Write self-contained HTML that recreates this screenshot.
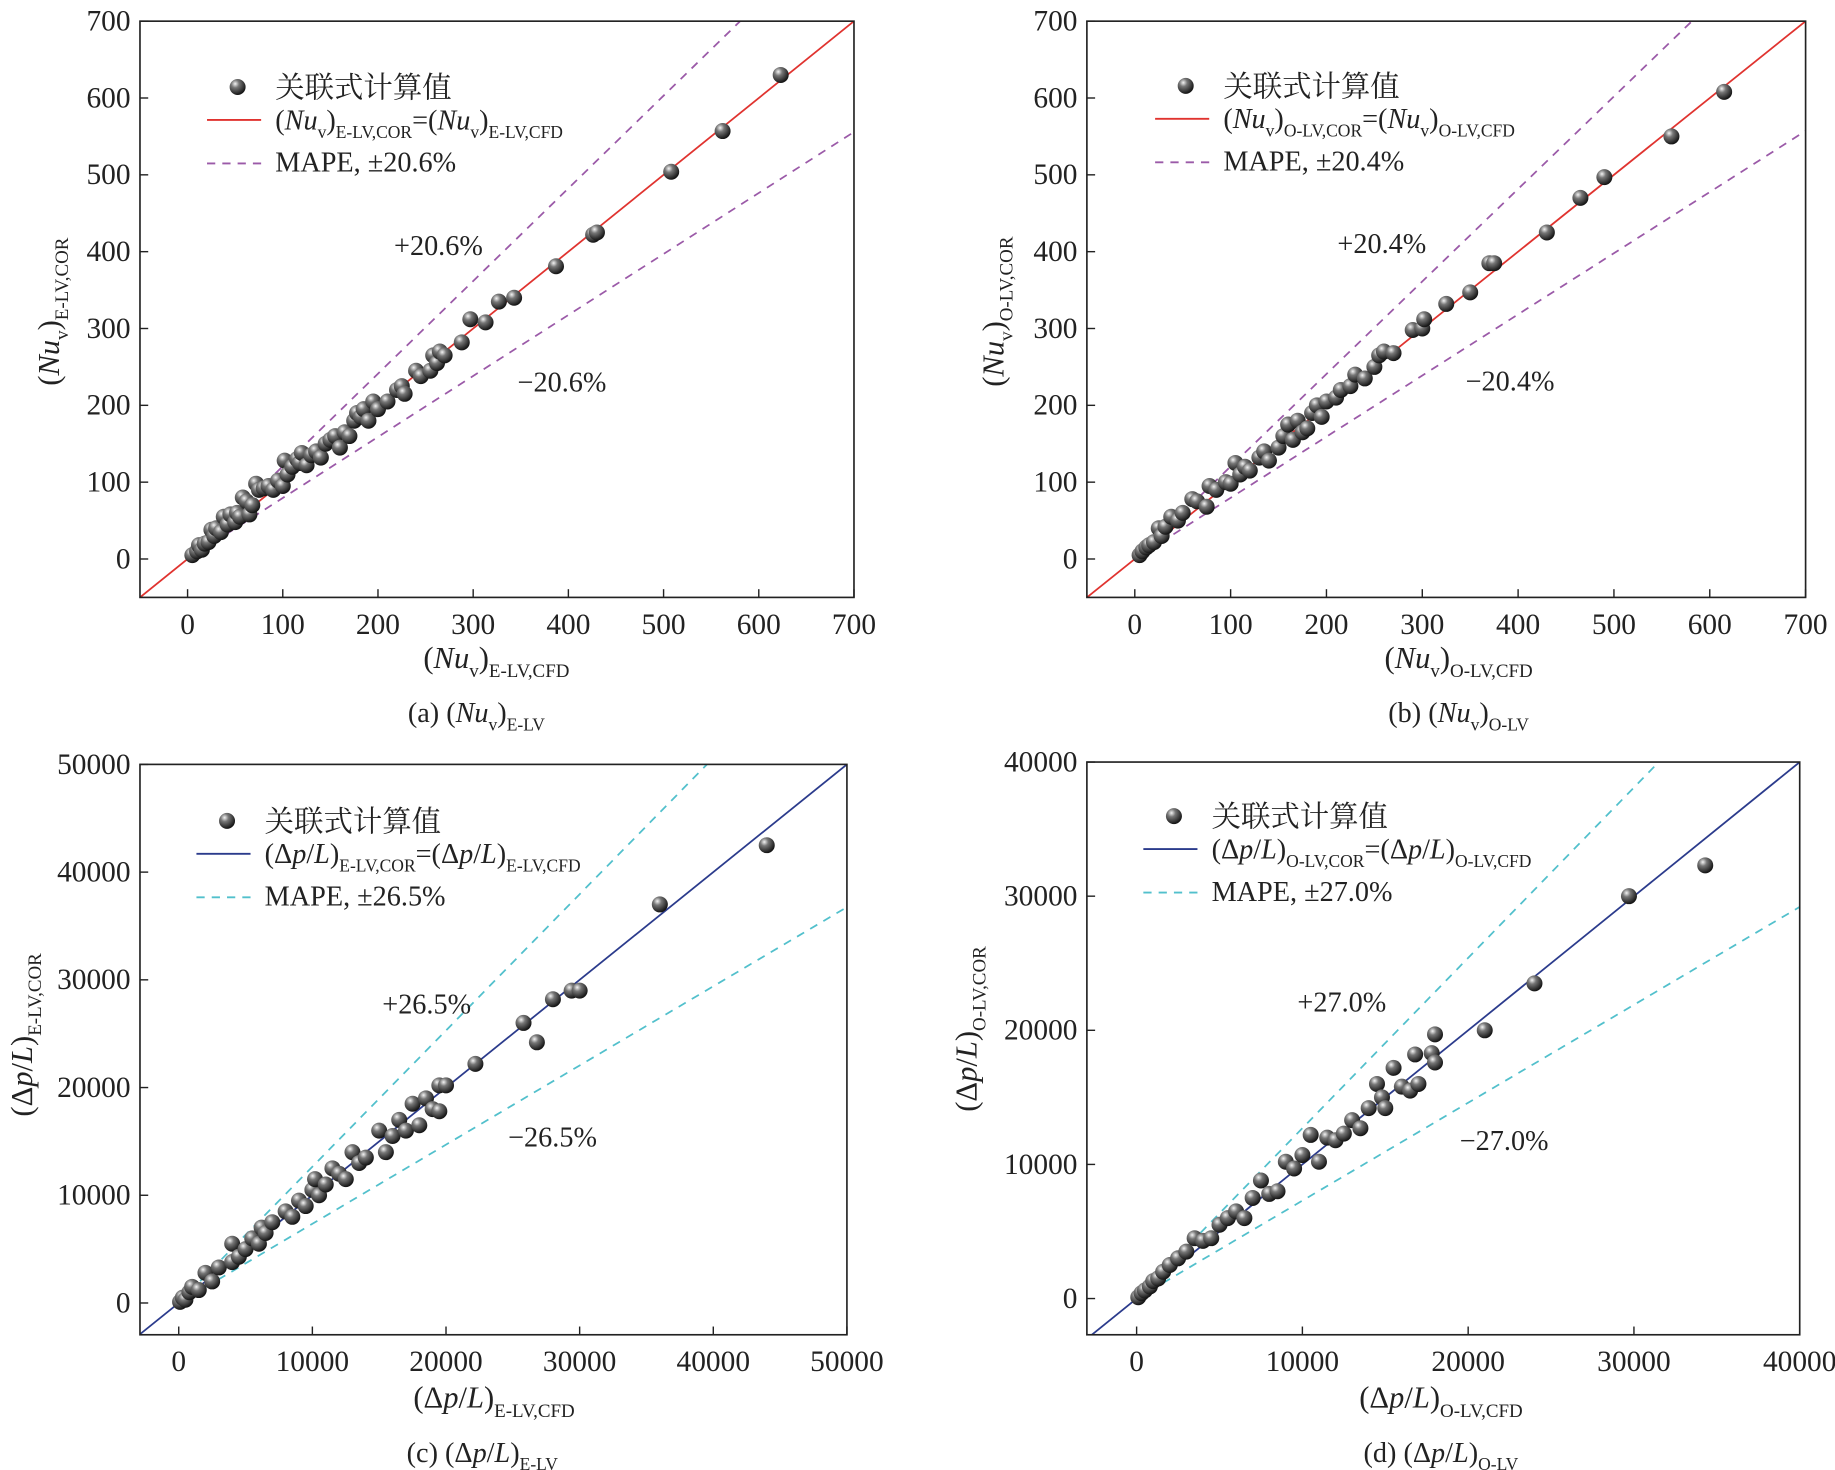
<!DOCTYPE html>
<html><head><meta charset="utf-8"><style>
html,body{margin:0;padding:0;background:#fff}
svg{display:block}
text{font-family:"Liberation Serif","Noto Serif CJK SC",serif;fill:#222}
</style></head><body>
<svg id="fig" width="1835" height="1470" viewBox="0 0 1560 1250" preserveAspectRatio="none" font-family="'Liberation Serif', 'Noto Serif CJK SC', serif" xmlns="http://www.w3.org/2000/svg">
<defs>
<radialGradient id="ball" cx="0.35" cy="0.3" r="0.7">
<stop offset="0" stop-color="#f4f4f4"/><stop offset="0.35" stop-color="#777"/><stop offset="1" stop-color="#151515"/>
</radialGradient>
</defs>
</svg>
<script>
// Panel (a) data: (Nu_v)E-LV CFD vs COR
const aX=[5,10,12,15,18,22,25,28,30,35,38,42,45,50,52,55,58,62,65,68,72,75,80,85,90,95,100,102,105,110,115,118,120,125,130,135,140,145,150,155,160,165,170,175,178,182,185,190,195,200,210,220,225,228,240,245,255,258,262,265,270,288,297,313,327,343,387,426,430,508,562,623];
const aY=[5,10,18,12,20,22,38,30,40,35,55,45,58,48,60,55,80,75,58,70,98,90,92,95,90,102,95,128,110,120,130,125,138,122,135,140,132,150,155,160,145,165,160,180,190,185,195,180,205,195,205,220,225,215,245,238,245,265,255,270,265,282,312,308,335,340,381,422,425,504,557,630];
// Panel (b) data
const bX=[5,8,12,15,20,25,28,32,38,45,50,60,65,75,78,85,95,100,105,110,115,120,130,135,140,150,155,160,165,170,175,180,185,190,195,200,210,215,225,230,240,250,255,260,270,290,300,302,325,350,370,375,430,465,490,560,615];
const bY=[5,10,15,18,22,40,30,42,55,50,60,78,75,68,95,90,100,98,125,110,120,115,132,140,128,145,160,175,155,180,165,170,190,200,185,205,210,220,225,240,235,250,265,270,268,298,300,312,332,347,385,385,425,470,497,550,608];
// Panel (c) data (Δp/L) E-LV
const cX=[100,300,500,800,1000,1500,2000,2500,3000,4000,4000,4500,5000,5500,6000,6200,6500,7000,8000,8500,9000,9500,10000,10200,10500,11000,11500,12000,12500,13000,13500,14000,15000,15500,16000,16500,17000,17500,18000,18500,19000,19500,20000,19500,22200,25800,26800,28000,29400,30000,36000,44000];
const cY=[100,500,300,1000,1500,1200,2800,2000,3300,5500,3800,4300,5000,6000,5500,7000,6500,7500,8500,8000,9500,9000,10500,11500,10000,11000,12500,12000,11500,14000,13000,13500,16000,14000,15500,17000,16000,18500,16500,19000,18000,20200,20200,17800,22200,26000,24200,28200,29000,29000,37000,42500];
// Panel (d) data (Δp/L) O-LV
const dX=[100,300,500,800,1000,1300,1600,2000,2500,3000,3500,4000,4500,5000,5500,6000,6500,7000,7500,8000,8500,9000,9500,10000,10500,11000,11500,12000,12500,13000,13500,14000,14500,14800,15000,15500,16000,16500,16800,17000,17800,18000,18000,21000,24000,29700,34300];
const dY=[100,400,600,900,1300,1500,2000,2500,3000,3500,4500,4300,4500,5500,6000,6500,6000,7500,8800,7800,8000,10200,9700,10700,12200,10200,12000,11800,12300,13300,12700,14200,16000,15000,14200,17200,15800,15500,18200,16000,18300,17600,19700,20000,23500,30000,32300];
const aTicks=[0,100,200,300,400,500,600,700];
const cTicks=[0,10000,20000,30000,40000,50000];
const dTicks=[0,10000,20000,30000,40000];

const NS="http://www.w3.org/2000/svg";
const svg=document.getElementById('fig');
function el(tag,attrs,parent){const e=document.createElementNS(NS,tag);for(const k in attrs)e.setAttribute(k,attrs[k]);(parent||svg).appendChild(e);return e;}
function richText(parent,x,y,parts,size,anchor,rot){
  const t=el('text',{x:x,y:y,'font-size':size,'text-anchor':anchor||'start'},parent);
  if(rot)t.setAttribute('transform','rotate(-90 '+x+' '+y+')');
  let down=false;const off=size*0.3;
  parts.forEach(p=>{const s=el('tspan',{},t);s.textContent=p[0];
    if(p[1]==='i')s.setAttribute('font-style','italic');
    if(p[1]==='sub'){s.setAttribute('font-size',size*0.62);if(!down){s.setAttribute('dy',off);down=true;}}
    else if(down){s.setAttribute('dy',-off);down=false;}
  });
  return t;
}
function panel(o){
  const g=el('g',{});
  
  
  const sx=v=>o.px0+(v-o.xmin)/(o.xmax-o.xmin)*(o.px1-o.px0);
  const sy=v=>o.py0-(v-o.ymin)/(o.ymax-o.ymin)*(o.py0-o.py1);
  const L=o.px0,R=o.px1,B=o.py0,T=o.py1;
  const clip='clip'+o.name;
  const cp=el('clipPath',{id:clip},g);el('rect',{x:L,y:T,width:R-L,height:B-T},cp);
  const pg=el('g',{'clip-path':'url(#'+clip+')'},g);
  const up=el('line',{x1:sx(0),y1:sy(0),x2:sx(o.xmax),y2:sy(o.xmax*(1+o.p)),stroke:o.dash,'stroke-width':1.5,'stroke-dasharray':'7,6'},pg);
  
  
  const dn=el('line',{x1:sx(0),y1:sy(0),x2:sx(o.xmax),y2:sy(o.xmax*(1-o.p)),stroke:o.dash,'stroke-width':1.5,'stroke-dasharray':'7,6'},pg);
  
  
  const ln=el('line',{x1:sx(o.xmin),y1:sy(o.xmin),x2:sx(o.xmax),y2:sy(o.xmax),stroke:o.line,'stroke-width':1.5},pg);
  
  
  o.xs.forEach((x,i)=>{const c=el('circle',{cx:sx(x),cy:sy(o.ys[i]),r:6.8,fill:'url(#ball)'},pg);
    
    });
  const fr=el('rect',{x:L,y:T,width:R-L,height:B-T,fill:'none',stroke:'#222','stroke-width':1.4},g);
  
  
  o.ticks.forEach(v=>{
    el('line',{x1:sx(v),y1:B,x2:sx(v),y2:B-7,stroke:'#222','stroke-width':1.2},g);
    el('line',{x1:L,y1:sy(v),x2:L+7,y2:sy(v),stroke:'#222','stroke-width':1.2},g);
    const tx=el('text',{x:sx(v),y:B+31,'font-size':25,'text-anchor':'middle'},g);tx.textContent=v;
    
    
    const ty=el('text',{x:L-8,y:sy(v)+8,'font-size':25,'text-anchor':'end'},g);ty.textContent=v;
    
    
  });
  el('circle',{cx:o.lgx,cy:o.lgy,r:6.8,fill:'url(#ball)'},g);
  const t1=el('text',{x:o.lgx+32,y:o.lgy+9,'font-size':25},g);t1.textContent='关联式计算值';
  
  
  el('line',{x1:o.lgx-26,y1:o.lgy+28,x2:o.lgx+20,y2:o.lgy+28,stroke:o.line,'stroke-width':1.6},g);
  const t2=richText(g,o.lgx+32,o.lgy+36,o.legLine,24);
  
  
  el('line',{x1:o.lgx-26,y1:o.lgy+65,x2:o.lgx+20,y2:o.lgy+65,stroke:o.dash,'stroke-width':1.6,'stroke-dasharray':'7,6'},g);
  const t3=el('text',{x:o.lgx+32,y:o.lgy+72,'font-size':24},g);t3.textContent=o.mape;
  
  
  const a1=el('text',{x:o.upx,y:o.upy,'font-size':24},g);a1.textContent=o.upT;
  
  
  const a2=el('text',{x:o.dnx,y:o.dny,'font-size':24},g);a2.textContent=o.dnT;
  
  
  const yl=richText(g,o.ylx,o.yly,o.ylab,26,'middle',true);
  
  
  const xl=richText(g,o.xlx,o.xly,o.xlab,26,'middle');
  
  
  const cap=richText(g,o.cx,o.cy,o.cap,24,'middle');
  
  
}
const NU=(s)=>[['(',''],['Nu','i'],['v','sub'],[')',''],[s,'sub']];
const DP=(s)=>[['(Δ',''],['p','i'],['/',''],['L','i'],[')',''],[s,'sub']];
panel({name:'panel-a',px0:119,px1:726,py0:508,py1:18,xmin:-50,xmax:700,ymin:-50,ymax:700,p:0.206,
 line:'#e0332f',dash:'#9b5aa8',xs:aX,ys:aY,ticks:aTicks,lgx:202,lgy:74,
 legLine:NU('E-LV,COR').concat([['=','']]).concat(NU('E-LV,CFD')),mape:'MAPE, ±20.6%',
 upx:335,upy:217,upT:'+20.6%',dnx:440,dny:333,dnT:'−20.6%',
 ylx:50,yly:265,ylab:NU('E-LV,COR'),xlx:422,xly:568,xlab:NU('E-LV,CFD'),cx:405,cy:614,cap:[['(a) (','']].concat([['Nu','i'],['v','sub'],[')',''],['E-LV','sub']])});
panel({name:'panel-b',px0:924,px1:1535,py0:508,py1:18,xmin:-50,xmax:700,ymin:-50,ymax:700,p:0.204,
 line:'#e0332f',dash:'#9b5aa8',xs:bX,ys:bY,ticks:aTicks,lgx:1008,lgy:73,
 legLine:NU('O-LV,COR').concat([['=','']]).concat(NU('O-LV,CFD')),mape:'MAPE, ±20.4%',
 upx:1137,upy:215,upT:'+20.4%',dnx:1246,dny:332,dnT:'−20.4%',
 ylx:853,yly:265,ylab:NU('O-LV,COR'),xlx:1240,xly:568,xlab:NU('O-LV,CFD'),cx:1240,cy:614,cap:[['(b) (','']].concat([['Nu','i'],['v','sub'],[')',''],['O-LV','sub']])});
panel({name:'panel-c',px0:119,px1:720,py0:1135,py1:650,xmin:-2900,xmax:50000,ymin:-2950,ymax:50000,p:0.265,
 line:'#2b3b8c',dash:'#52c0cc',xs:cX,ys:cY,ticks:cTicks,lgx:193,lgy:698,
 legLine:DP('E-LV,COR').concat([['=','']]).concat(DP('E-LV,CFD')),mape:'MAPE, ±26.5%',
 upx:325,upy:862,upT:'+26.5%',dnx:432,dny:975,dnT:'−26.5%',
 ylx:27,yly:880,ylab:DP('E-LV,COR'),xlx:420,xly:1197,xlab:DP('E-LV,CFD'),cx:410,cy:1243,cap:[['(c) ','']].concat(DP('E-LV'))});
panel({name:'panel-d',px0:924,px1:1530,py0:1135,py1:648,xmin:-3000,xmax:40000,ymin:-2700,ymax:40000,p:0.27,
 line:'#2b3b8c',dash:'#52c0cc',xs:dX,ys:dY,ticks:dTicks,lgx:998,lgy:694,
 legLine:DP('O-LV,COR').concat([['=','']]).concat(DP('O-LV,CFD')),mape:'MAPE, ±27.0%',
 upx:1103,upy:860,upT:'+27.0%',dnx:1241,dny:978,dnT:'−27.0%',
 ylx:830,yly:875,ylab:DP('O-LV,COR'),xlx:1225,xly:1197,xlab:DP('O-LV,CFD'),cx:1225,cy:1243,cap:[['(d) ','']].concat(DP('O-LV'))});
</script>
</body></html>
